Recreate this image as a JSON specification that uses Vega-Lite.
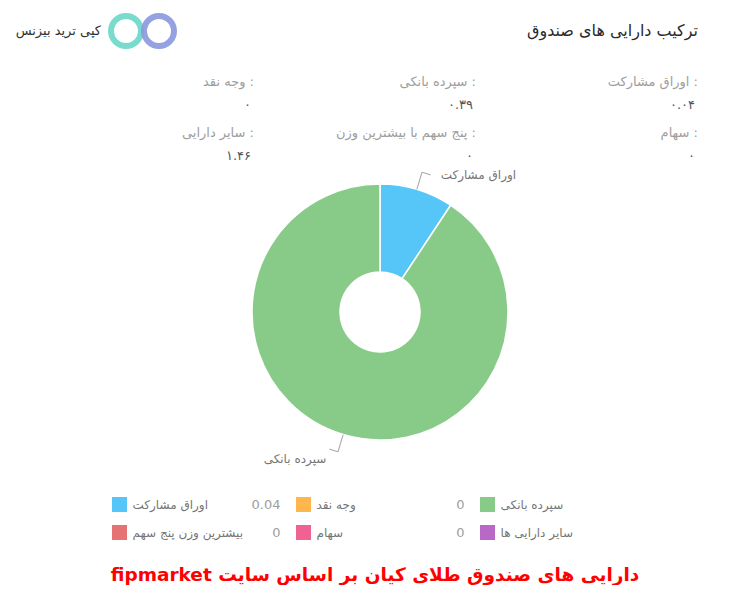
{
  "$schema": "https://vega.github.io/schema/vega-lite/v6.json",
  "padding": 0,
  "background": "white",
  "spacing": 0,
  "bounds": "flush",
  "resolve": {"scale": {"color": "independent", "theta": "independent"}},
  "config": {"view": {"stroke": null}, "font": "DejaVu Sans"},
  "title": {
    "text": "‫دارایی های صندوق طلای کیان بر اساس سایت fipmarket‬",
    "orient": "bottom",
    "anchor": "middle",
    "fontSize": 18.5,
    "fontWeight": "bold",
    "color": "#ff0000",
    "font": "DejaVu Sans",
    "offset": 12
  },
  "vconcat": [
    {
      "width": 750,
      "height": 170,
      "resolve": {"scale": {"x": "independent", "y": "independent"}},
      "layer": [
        {
          "data": {"values": [{"t": "ترکیب دارایی های صندوق", "col": "c1", "row": "h"}]},
          "mark": {"type": "text", "align": "right", "baseline": "middle", "fontSize": 16, "fill": "#2b2b2b"},
          "encoding": {
            "x": {"field": "col", "type": "nominal", "scale": {"domain": ["c3", "c2", "c1"], "range": [254, 698], "padding": 0}, "axis": null},
            "y": {"field": "row", "type": "nominal", "scale": {"domain": ["h", "r1", "r2"], "range": [31, 133], "padding": 0}, "axis": null},
            "text": {"field": "t"}
          }
        },
        {
          "data": {"values": [
            {"label": "اوراق مشارکت :", "val": "۰.۰۴", "col": "c1", "row": "r1"},
            {"label": "سپرده بانکی :", "val": "۰.۳۹", "col": "c2", "row": "r1"},
            {"label": "وجه نقد :", "val": "۰", "col": "c3", "row": "r1"},
            {"label": "سهام :", "val": "۰", "col": "c1", "row": "r2"},
            {"label": "پنج سهم با بیشترین وزن :", "val": "۰", "col": "c2", "row": "r2"},
            {"label": "سایر دارایی :", "val": "۱.۴۶", "col": "c3", "row": "r2"}
          ]},
          "encoding": {
            "x": {"field": "col", "type": "nominal", "scale": {"domain": ["c3", "c2", "c1"], "range": [254, 698], "padding": 0}, "axis": null},
            "y": {"field": "row", "type": "nominal", "scale": {"domain": ["h", "r1", "r2"], "range": [31, 133], "padding": 0}, "axis": null}
          },
          "layer": [
            {
              "mark": {"type": "text", "align": "right", "baseline": "middle", "fontSize": 13, "fill": "#9e9e9e"},
              "encoding": {"text": {"field": "label"}}
            },
            {
              "mark": {"type": "text", "align": "right", "baseline": "middle", "fontSize": 13, "fill": "#555555", "dy": 23, "dx": -3},
              "encoding": {"text": {"field": "val"}}
            }
          ]
        },
        {
          "data": {"values": [{"part": "ring1", "row": "h", "t": "کپی ترید بیزنس"}, {"part": "ring2", "row": "h", "t": ""}]},
          "encoding": {
            "x": {"field": "part", "type": "nominal", "scale": {"domain": ["ring1", "ring2"], "range": [126, 159], "padding": 0}, "axis": null},
            "y": {"field": "row", "type": "nominal", "scale": {"domain": ["h", "r1", "r2"], "range": [31, 133], "padding": 0}, "axis": null}
          },
          "layer": [
            {
              "mark": {"type": "point", "shape": "circle", "size": 900, "filled": false, "strokeWidth": 6, "opacity": 0.9},
              "encoding": {
                "color": {"field": "part", "type": "nominal", "scale": {"domain": ["ring1", "ring2"], "range": ["#6ad8c6", "#8a98de"]}, "legend": null}
              }
            },
            {
              "mark": {"type": "text", "align": "right", "baseline": "middle", "fontSize": 13, "fill": "#333333", "dx": -25},
              "encoding": {"text": {"field": "t"}}
            }
          ]
        }
      ]
    },
    {
      "width": 750,
      "height": 284,
      "data": {"values": [
        {"name": "اوراق مشارکت", "value": 0.04, "ord": 1},
        {"name": "سپرده بانکی", "value": 0.39, "ord": 2}
      ]},
      "encoding": {
        "theta": {"field": "value", "type": "quantitative", "stack": true},
        "order": {"field": "ord", "type": "quantitative"}
      },
      "layer": [
        {
          "mark": {"type": "arc", "radius": 128, "radius2": 40, "stroke": "#ffffff", "strokeWidth": 1.5, "xOffset": 5},
          "encoding": {
            "color": {"field": "name", "type": "nominal", "legend": null,
              "scale": {"domain": ["اوراق مشارکت", "وجه نقد", "سپرده بانکی", "بیشترین وزن پنج سهم", "سهام", "سایر دارایی ها"],
                        "range": ["#56c5f8", "#ffb74d", "#88cb88", "#e57373", "#f06292", "#ba68c8"]}}
          }
        },
        {
          "mark": {"type": "text", "radius": 148, "dy": 5, "xOffset": 5, "fontSize": 12, "fill": "#757575",
                   "align": {"expr": "datum.ord == 1 ? 'left' : 'right'"},
                   "dx": {"expr": "datum.ord == 1 ? 18 : -11"}},
          "encoding": {"text": {"field": "name"}}
        },
        {
          "transform": [{"filter": "datum.ord == 1"}],
          "mark": {"type": "arc", "radius": 146, "radius2": 128, "thetaOffset": -0.2963, "theta2Offset": -0.2883, "fill": "#aaaaaa", "xOffset": 5},
          "encoding": {"theta": {"field": "value", "type": "quantitative", "stack": null}, "theta2": {"field": "value"}}
        },
        {
          "transform": [{"filter": "datum.ord == 1"}],
          "mark": {"type": "arc", "radius": 146.5, "radius2": 145.5, "thetaOffset": -0.2923, "theta2Offset": -0.2307, "fill": "#aaaaaa", "xOffset": 5},
          "encoding": {"theta": {"field": "value", "type": "quantitative", "stack": null}, "theta2": {"field": "value"}}
        },
        {
          "transform": [{"filter": "datum.ord == 2"}],
          "mark": {"type": "arc", "radius": 146, "radius2": 128, "thetaOffset": -2.2690, "theta2Offset": -2.2610, "fill": "#aaaaaa", "xOffset": 5},
          "encoding": {"theta": {"field": "value", "type": "quantitative", "stack": null}, "theta2": {"field": "value"}}
        },
        {
          "transform": [{"filter": "datum.ord == 2"}],
          "mark": {"type": "arc", "radius": 146.5, "radius2": 145.5, "thetaOffset": -2.2650, "theta2Offset": -2.2034, "fill": "#aaaaaa", "xOffset": 5},
          "encoding": {"theta": {"field": "value", "type": "quantitative", "stack": null}, "theta2": {"field": "value"}}
        }
      ]
    },
    {
      "width": 750,
      "height": 100,
      "data": {"values": [
        {"name": "اوراق مشارکت", "col": "l1", "row": "a", "shown": "0.04"},
        {"name": "وجه نقد", "col": "l2", "row": "a", "shown": "0"},
        {"name": "سپرده بانکی", "col": "l3", "row": "a"},
        {"name": "بیشترین وزن پنج سهم", "col": "l1", "row": "b", "shown": "0"},
        {"name": "سهام", "col": "l2", "row": "b", "shown": "0"},
        {"name": "سایر دارایی ها", "col": "l3", "row": "b"}
      ]},
      "encoding": {
        "x": {"field": "col", "type": "nominal", "scale": {"domain": ["l1", "l2", "l3"], "range": [119.5, 487.5], "padding": 0}, "axis": null},
        "y": {"field": "row", "type": "nominal", "scale": {"domain": ["a", "b"], "range": [50.5, 78.5], "padding": 0}, "axis": null}
      },
      "layer": [
        {
          "mark": {"type": "square", "size": 225, "filled": true, "opacity": 1},
          "encoding": {
            "color": {"field": "name", "type": "nominal", "legend": null,
              "scale": {"domain": ["اوراق مشارکت", "وجه نقد", "سپرده بانکی", "بیشترین وزن پنج سهم", "سهام", "سایر دارایی ها"],
                        "range": ["#56c5f8", "#ffb74d", "#88cb88", "#e57373", "#f06292", "#ba68c8"]}}
          }
        },
        {
          "mark": {"type": "text", "align": "left", "baseline": "middle", "fontSize": 12, "fill": "#757575", "dx": 13},
          "encoding": {"text": {"field": "name"}}
        },
        {
          "transform": [{"filter": "isValid(datum.shown)"}],
          "mark": {"type": "text", "align": "right", "baseline": "middle", "fontSize": 13, "fill": "#9e9e9e", "dx": 161},
          "encoding": {"text": {"field": "shown"}}
        }
      ]
    }
  ]
}
